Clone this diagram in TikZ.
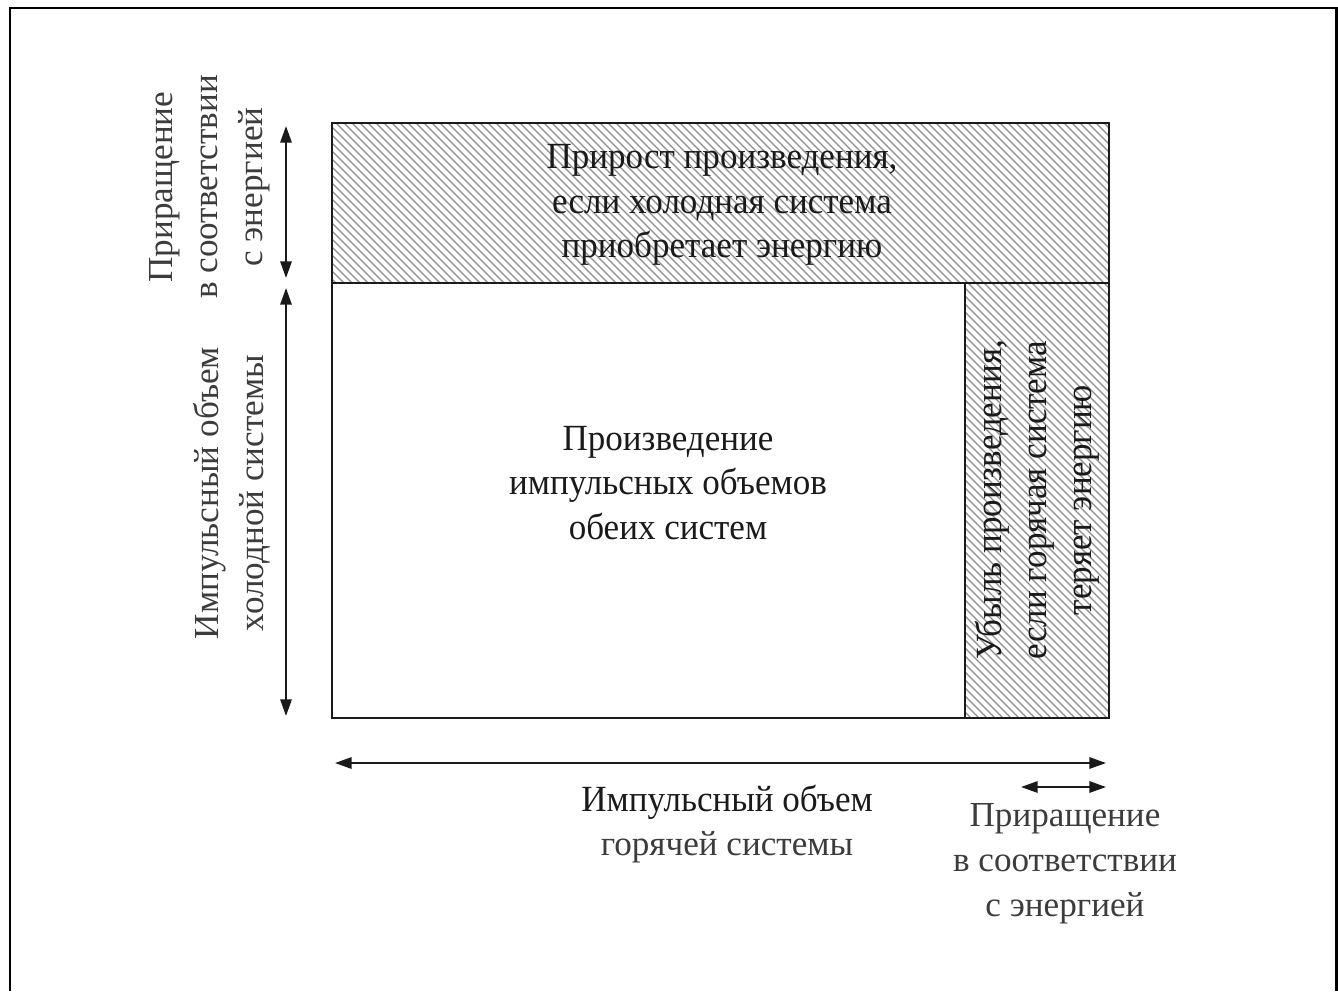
\documentclass[tikz,border=0pt]{standalone}
\usepackage{fontspec}
\setmainfont{Liberation Serif}
\newfontfamily\narrowfont[FakeStretch=0.95]{Liberation Serif}
\usetikzlibrary{arrows.meta}
\definecolor{Ink}{HTML}{1A1A1A}

\begin{document}
\begin{tikzpicture}[x=0.02cm,y=-0.02cm,
  outer/.style={font=\fontsize{20}{25.5}\selectfont,text=Ink!85,align=center,inner sep=0pt},
  inner/.style={font=\narrowfont\fontsize{21}{25.5}\selectfont,text=Ink,align=center,inner sep=0pt},
  hatch/.style={black!45,line width=0.65pt},
  dim/.style={Ink,line width=1.1pt,{Triangle[length=9.5pt,width=6.5pt]}-{Triangle[length=9.5pt,width=6.5pt]}}]
\useasboundingbox (0,0) rectangle (1338,991);
\draw[line width=1.7pt] (10,991) -- (10,8) -- (1336,8) -- (1336,991);
% product rectangle
\coordinate (nw) at (332,123);
\coordinate (se) at (1109,718);
\coordinate (ml) at (332,283);
\coordinate (mr) at (1109,283);
\coordinate (mm) at (965,283);
\coordinate (mb) at (965,718);
\begin{scope}
\clip (nw) rectangle (mr);
\foreach \x in {168,176,...,1112} {\draw[hatch] (\x,123) -- ++(160,160);}
\end{scope}
\begin{scope}
\clip (mm) rectangle (se);
\foreach \x in {528,536,...,1112} {\draw[hatch] (\x,283) -- ++(435,435);}
\end{scope}
\draw[Ink,line width=1.2pt] (nw) rectangle (se);
\draw[Ink,line width=1.2pt] (ml) -- (mr) (mm) -- (mb);
% dimension arrows
\coordinate (dA1) at (286,126);
\coordinate (dA2) at (286,278);
\coordinate (dB1) at (286,288);
\coordinate (dB2) at (286,716);
\coordinate (dC1) at (335,763);
\coordinate (dC2) at (1106,763);
\coordinate (dD1) at (1021,787);
\coordinate (dD2) at (1106,787);
\draw[dim] (dA1) -- (dA2);
\draw[dim] (dB1) -- (dB2);
\draw[dim] (dC1) -- (dC2);
\draw[dim] (dD1) -- (dD2);
% labels
\node[outer,rotate=90] (incL) at (210,187) {Приращение\\в соответствии\\с энергией};
\node[outer,rotate=90] (coldL) at (232,493) {Импульсный объем\\холодной системы};
\node[inner] (gain) at (722,205) {Прирост произведения,\\если холодная система\\приобретает энергию};
\node[inner] (prod) at (668,483) {Произведение\\импульсных объемов\\обеих систем};
\node[inner,rotate=90] (loss) at (1037,500) {Убыль произведения,\\если горячая система\\теряет энергию};
\node[outer] (hotL) at (727,824) {{\narrowfont\fontsize{21}{25.5}\selectfont\color{Ink} Импульсный объем}\\горячей системы};
\node[outer] (incB) at (1065,864) {Приращение\\в соответствии\\с энергией};
\end{tikzpicture}
\end{document}
